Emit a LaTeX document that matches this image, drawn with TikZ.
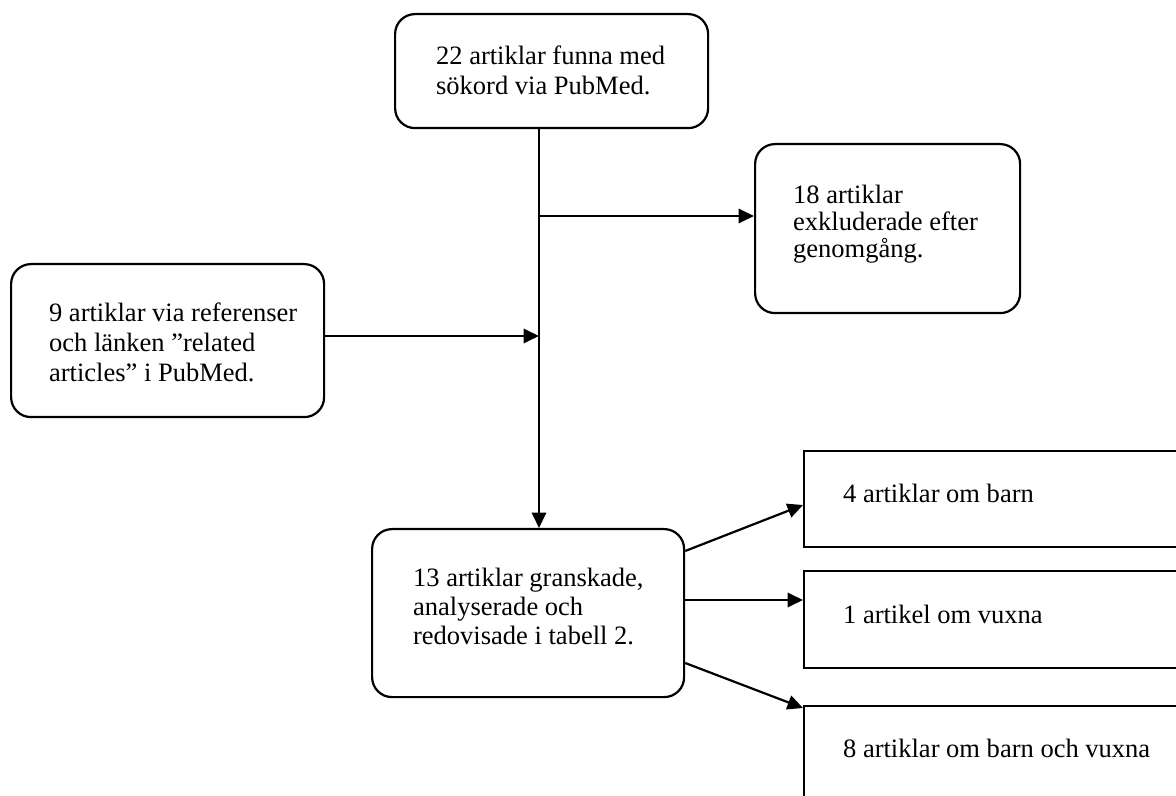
\documentclass[tikz,border=0pt]{standalone}
\usepackage{fontspec}
\setmainfont{Liberation Serif}
\usetikzlibrary{arrows.meta,calc}
\begin{document}
\begin{tikzpicture}[x=0.4525pt,y=-0.4525pt,
  line width=1pt,
  rbox/.style={draw,rounded corners=9pt,inner sep=0pt,anchor=north west},
  sbox/.style={draw,inner sep=0pt,anchor=north west},
  txt/.style={inner sep=0pt,anchor=base west,align=left,font=\fontsize{12}{13.8}\selectfont},
  arr/.style={-{Triangle[length=7pt,width=6.5pt]}}]
\useasboundingbox (0,0) rectangle (1176,796);
% boxes
\node[rbox,minimum width=313*0.4525pt,minimum height=114*0.4525pt] (top) at (394,13) {};
\node[rbox,minimum width=265*0.4525pt,minimum height=169*0.4525pt] (excl) at (754,143) {};
\node[rbox,minimum width=313*0.4525pt,minimum height=153*0.4525pt] (left) at (10,263) {};
\node[rbox,minimum width=312*0.4525pt,minimum height=168*0.4525pt] (bot) at (371,528) {};
\node[sbox,minimum width=400*0.4525pt,minimum height=96*0.4525pt] (r1) at (803,450) {};
\node[sbox,minimum width=400*0.4525pt,minimum height=97*0.4525pt] (r2) at (803,570) {};
\node[sbox,minimum width=400*0.4525pt,minimum height=120*0.4525pt] (r3) at (803,705) {};
% texts (anchored at the baseline of the last line)
\node[txt] (ttop) at (435,95) {22 artiklar funna med\\sökord via PubMed.};
\node[txt,font=\fontsize{12}{12.4}\selectfont] (texcl) at (792,258) {18 artiklar\\exkluderade efter\\genomgång.};
\node[txt] (tleft) at (48,382) {9 artiklar via referenser\\och länken ”related\\articles” i PubMed.};
\node[txt,font=\fontsize{12}{13.3}\selectfont] (tbot) at (412,645) {13 artiklar granskade,\\analyserade och\\redovisade i tabell 2.};
\node[txt] (tr1) at (842,503) {4 artiklar om barn};
\node[txt] (tr2) at (842,623) {1 artikel om vuxna};
\node[txt] (tr3) at (842,757) {8 artiklar om barn och vuxna};
% connectors
\coordinate (j1) at (539,216);
\coordinate (j2) at (539,336);
\draw[arr] (top.south -| j1) -- (j1 |- bot.north);
\draw[arr] (j1) -- (j1 -| excl.west);
\draw[arr] (left.east |- j2) -- (j2);
\coordinate (s1) at (683,551);
\coordinate (s2) at (683,600);
\coordinate (s3) at (683,663);
\coordinate (e1) at (803,505);
\coordinate (e2) at (803,600);
\coordinate (e3) at (803,708);
\draw[arr] (bot.east |- s1) -- (r1.west |- e1);
\draw[arr] (bot.east |- s2) -- (r2.west |- e2);
\draw[arr] (bot.east |- s3) -- (r3.west |- e3);
\end{tikzpicture}
\end{document}
